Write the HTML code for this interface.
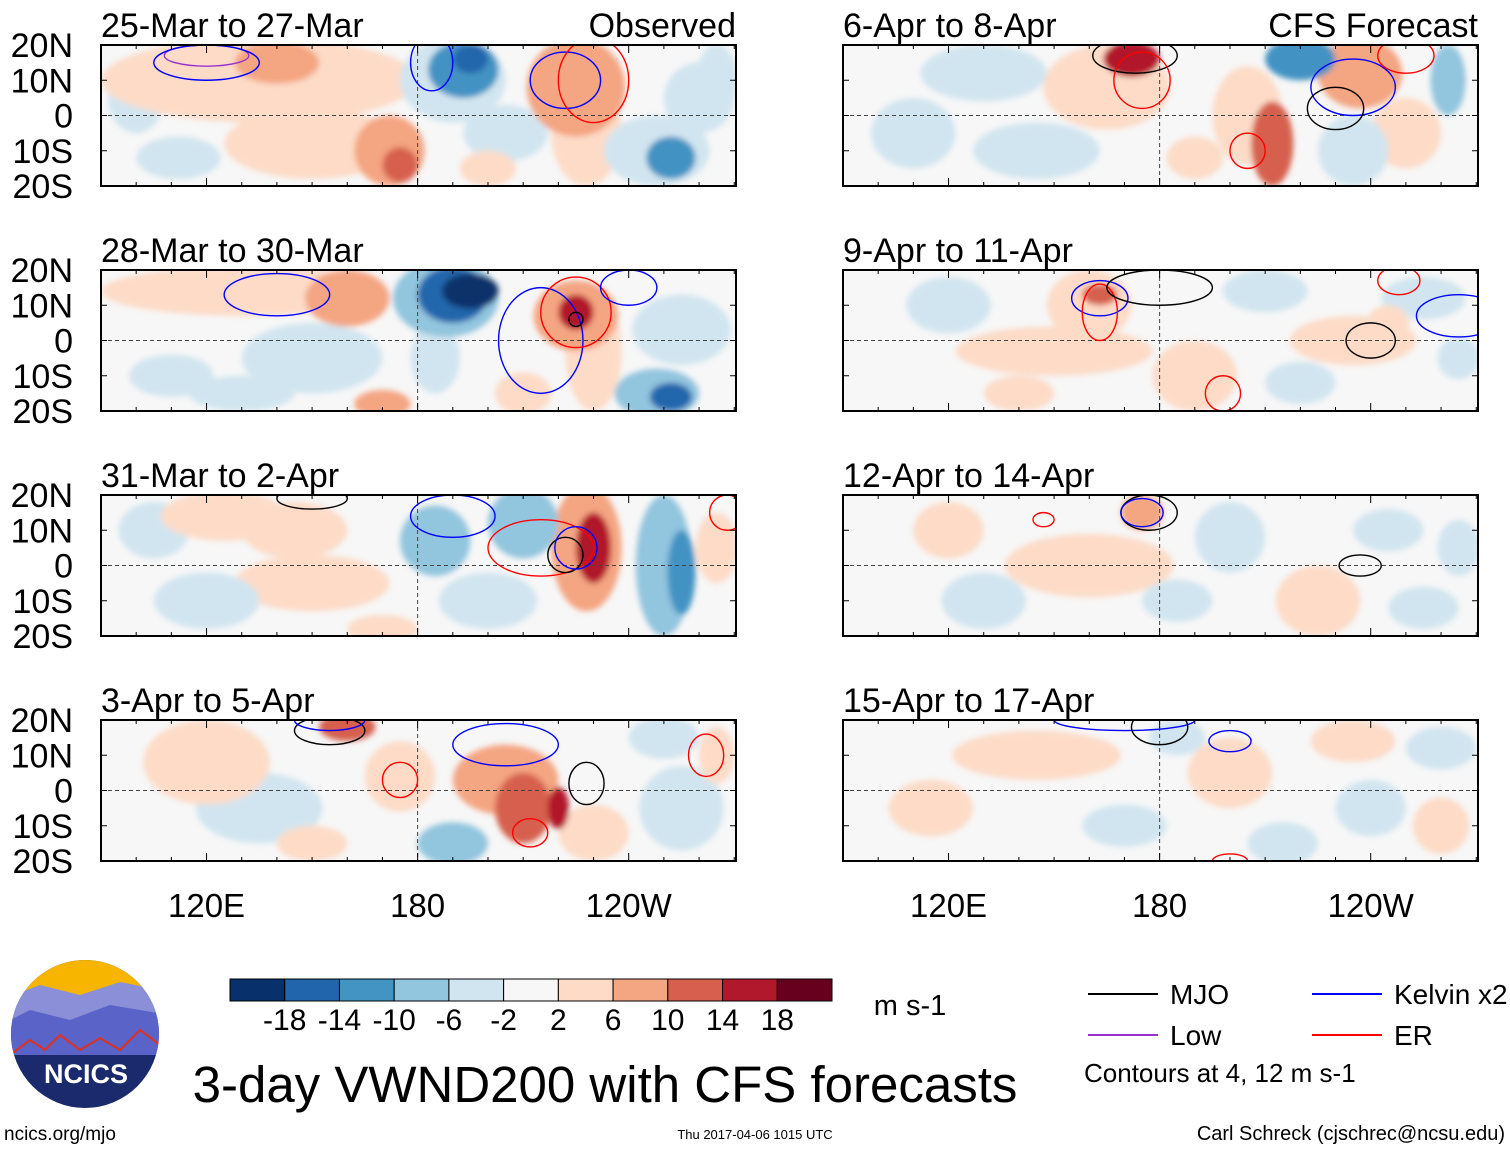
<!DOCTYPE html>
<html><head><meta charset="utf-8">
<style>
body{margin:0;background:#fff;width:1510px;height:1149px;overflow:hidden;font-family:"Liberation Sans",sans-serif;}
svg{position:absolute;left:0;top:0}
</style></head>
<body>
<svg id="chart" width="1510" height="1149">
<defs><filter id="blur" x="-20%" y="-20%" width="140%" height="140%"><feGaussianBlur stdDeviation="3"/></filter></defs>
</svg>
<script>
// ---- data ----
const panelTitles=["25-Mar to 27-Mar","28-Mar to 30-Mar","31-Mar to 2-Apr","3-Apr to 5-Apr","6-Apr to 8-Apr","9-Apr to 11-Apr","12-Apr to 14-Apr","15-Apr to 17-Apr"];
const latTicks=[20,10,0,-10,-20];
const latLabels=["20N","10N","0","10S","20S"];
const lonTicks=[120,180,240];
const lonLabels=["120E","180","120W"];
const levels=[-18,-14,-10,-6,-2,2,6,10,14,18];
const levelColors=["#08306b","#2166ac","#4393c3","#92c5de","#d1e5f0","#f7f7f7","#fddbc7","#f4a582","#d6604d","#b2182b","#67001f"];
// blobs: [lon, lat, lonRadius, latRadius, value m/s]
const blobs0=[[135,10,45,12,4],[150,-8,25,10,3],[172,-10,10,10,8],[175,-14,5,5,14],[190,10,15,12,-4],[193,13,10,8,-10],[195,16,5,4,-16],[225,8,14,14,7],[228,-5,10,15,4],[248,-10,15,10,-5],[252,-12,7,6,-10],[140,15,12,6,7],[265,10,6,10,-5],[205,-5,12,8,-3],[112,-12,12,6,-3],[260,5,10,10,-3],[100,5,8,10,-3],[200,-15,8,5,3]];
const blobs1=[[130,14,40,7,5],[160,12,12,8,7],[150,-5,20,10,-3],[188,12,15,11,-8],[190,13,10,8,-14],[195,14,8,5,-20],[225,7,12,10,9],[225,8,5,5,16],[230,-3,8,17,5],[248,-15,12,7,-8],[252,-16,6,4,-16],[170,-18,8,4,10],[255,3,14,10,-4],[110,-10,12,6,-3],[185,-5,7,10,-5],[210,-15,8,6,3],[130,-15,15,5,-3]];
const blobs2=[[125,14,18,7,5],[145,10,15,8,3],[185,7,10,10,-6],[210,12,10,10,-9],[228,5,10,18,8],[230,5,5,10,16],[250,0,8,20,-6],[255,-2,4,12,-12],[150,-5,22,8,3],[200,-10,14,8,-4],[170,-18,10,4,5],[120,-10,15,8,-3],[265,5,6,10,3],[105,10,10,8,-3]];
const blobs3=[[120,8,18,12,4],[160,18,8,4,12],[175,4,10,10,5],[205,3,15,10,7],[210,-5,8,10,12],[220,-5,3,6,18],[190,-15,10,6,-8],[135,-5,18,10,-3],[255,-5,12,12,-3],[250,15,10,6,-3],[230,-12,10,8,3],[150,-15,10,5,3],[265,10,5,8,3]];
const blobs4=[[165,8,18,12,5],[172,16,8,5,18],[212,-8,6,12,12],[205,0,10,14,5],[237,12,12,10,8],[220,16,10,6,-10],[262,10,5,10,-6],[130,12,18,8,-3],[145,-10,18,8,-3],[235,-10,10,10,-5],[110,-5,12,10,-3],[190,-12,8,6,3],[250,-5,10,10,3]];
const blobs5=[[160,10,12,10,5],[163,13,5,3,12],[150,-3,28,7,3],[210,14,12,6,-3],[235,0,18,7,4],[245,5,6,5,6],[255,12,12,6,-5],[190,-10,12,10,3],[265,-5,6,6,-3],[120,10,12,8,-3],[220,-12,10,6,-3],[140,-15,10,5,3]];
const blobs6=[[175,15,6,5,7],[200,8,10,10,-4],[160,0,24,9,3],[245,10,10,6,-3],[255,-12,10,6,-4],[225,-10,12,10,3],[120,10,10,8,3],[130,-10,12,8,-3],[185,-10,10,6,-3],[265,5,6,8,-3]];
const blobs7=[[235,14,12,6,5],[260,12,10,6,-5],[200,5,12,10,3],[145,10,24,7,3],[215,-15,10,6,-4],[260,-10,8,8,3],[170,-10,12,6,-3],[115,-5,12,8,3],[240,-5,10,8,-3],[185,15,8,5,-3]];
const allBlobs=[blobs0,blobs1,blobs2,blobs3,blobs4,blobs5,blobs6,blobs7];
// contours: [lon, lat, lonRadius, latRadius, type]
const cont0=[[120,17,12,3,"low"],[120,15,15,5,"kelvin"],[184,15,6,8,"kelvin"],[222,10,10,8,"kelvin"],[230,10,10,12,"er"]];
const cont1=[[140,13,15,6,"kelvin"],[215,0,12,15,"kelvin"],[225,8,10,10,"er"],[225,6,2,2,"mjo"],[240,15,8,5,"kelvin"]];
const cont2=[[150,19,10,3,"mjo"],[190,14,12,6,"kelvin"],[215,5,15,8,"er"],[222,3,5,5,"mjo"],[225,5,6,6,"kelvin"],[268,15,5,5,"er"]];
const cont3=[[155,17,10,4,"mjo"],[155,20,10,3,"kelvin"],[205,13,15,6,"kelvin"],[175,3,5,5,"er"],[212,-12,5,4,"er"],[228,2,5,6,"mjo"],[262,10,5,6,"er"]];
const cont4=[[173,17,12,5,"mjo"],[175,10,8,8,"er"],[235,8,12,8,"kelvin"],[230,2,8,6,"mjo"],[205,-10,5,5,"er"],[250,17,8,5,"er"]];
const cont5=[[163,12,8,5,"kelvin"],[163,8,5,8,"er"],[180,15,15,5,"mjo"],[240,0,7,5,"mjo"],[265,7,12,6,"kelvin"],[248,17,6,4,"er"],[198,-15,5,5,"er"]];
const cont6=[[177,15,8,5,"mjo"],[175,15,6,4,"kelvin"],[147,13,3,2,"er"],[237,0,6,3,"mjo"]];
const cont7=[[170,20,20,3,"kelvin"],[180,18,8,5,"mjo"],[200,14,6,3,"kelvin"],[200,-20,5,2,"er"]];
const allCont=[cont0,cont1,cont2,cont3,cont4,cont5,cont6,cont7];
const contColors={mjo:"#000",kelvin:"#0000ff",low:"#9932cc",er:"#ff0000"};

// ---- layout ----
const NS="http://www.w3.org/2000/svg";
const svg=document.getElementById("chart");
const defs=svg.querySelector("defs");
const colX=[101,843], rowY=[45,270,495,720], PW=635, PH=141;
const lonMin=90, lonMax=270.5, latMin=-20, latMax=20;
function xS(lon,px){return px+(lon-lonMin)/(lonMax-lonMin)*PW;}
function yS(lat,py){return py+(latMax-lat)/(latMax-latMin)*PH;}
function colorOf(v){let i=0;while(i<levels.length&&v>levels[i])i++;return levelColors[i];}
function mk(tag,attrs,parent){const e=document.createElementNS(NS,tag);for(const k in attrs)e.setAttribute(k,attrs[k]);(parent||svg).appendChild(e);return e;}
function txt(x,y,s,size,anchor,parent){const t=mk("text",{x:x,y:y,"font-size":size,"text-anchor":anchor||"start",fill:"#000"},parent);t.textContent=s;return t;}

for(let p=0;p<8;p++){
  const px=colX[p<4?0:1], py=rowY[p%4];
  const g=mk("g",{});
  
  
  const cp=mk("clipPath",{id:"cp"+p},defs);
  mk("rect",{x:px,y:py,width:PW,height:PH},cp);
  const fill=mk("g",{"clip-path":"url(#cp"+p+")"},g);
  mk("rect",{x:px,y:py,width:PW,height:PH,fill:"#f7f7f7"},fill);
  const bl=mk("g",{filter:"url(#blur)"},fill);
  const sorted=allBlobs[p].slice().sort((a,b)=>Math.abs(a[4])-Math.abs(b[4]));
  for(const b of sorted){
    const e=mk("ellipse",{cx:xS(b[0],px),cy:yS(b[1],py),rx:b[2]/(lonMax-lonMin)*PW,ry:b[3]/(latMax-latMin)*PH,fill:colorOf(b[4])},bl);
    
    
  }
  mk("line",{x1:px,x2:px+PW,y1:yS(0,py),y2:yS(0,py),stroke:"#444","stroke-dasharray":"4,3","stroke-width":1},fill);
  mk("line",{x1:xS(180,px),x2:xS(180,px),y1:py,y2:py+PH,stroke:"#444","stroke-dasharray":"4,3","stroke-width":1},fill);
  for(const c of allCont[p]){
    const e=mk("ellipse",{cx:xS(c[0],px),cy:yS(c[1],py),rx:c[2]/(lonMax-lonMin)*PW,ry:c[3]/(latMax-latMin)*PH,fill:"none",stroke:contColors[c[4]],"stroke-width":1.4},fill);
    
    
  }
  mk("rect",{x:px,y:py,width:PW,height:PH,fill:"none",stroke:"#000","stroke-width":2},g);
  for(let l=90;l<=270;l+=10){const x=xS(l,px);const len=(l%60==0)?8:4;
    mk("line",{x1:x,x2:x,y1:py,y2:py+len,stroke:"#000"},g);mk("line",{x1:x,x2:x,y1:py+PH,y2:py+PH-len,stroke:"#000"},g);}
  for(const la of latTicks){const y=yS(la,py);mk("line",{x1:px,x2:px+6,y1:y,y2:y,stroke:"#000"},g);mk("line",{x1:px+PW,x2:px+PW-6,y1:y,y2:y,stroke:"#000"},g);}
  const t=txt(px,py-8,panelTitles[p],34,"start",g);
  
  if(p<4){latTicks.forEach((la,i)=>{const l=txt(73,yS(la,py)+12,latLabels[i],34,"end",g);});}
  if(p%4==3){lonTicks.forEach((lo,i)=>{const l=txt(xS(lo,px),py+PH+56,lonLabels[i],33,"middle",g);});}
}
const ob=txt(736,37,"Observed",34,"end");
const cf=txt(1478,37,"CFS Forecast",34,"end");

// colorbar
const cb=mk("g",{});

const cbX=230,cbW=602/11;
levelColors.forEach((c,i)=>{mk("rect",{x:cbX+i*cbW,y:979,width:cbW,height:22,fill:c,stroke:"#000","stroke-width":1},cb);});
levels.forEach((v,i)=>{txt(cbX+(i+1)*cbW,1030,String(v),30,"middle",cb);});
txt(910,1015,"m s-1",29,"middle",cb);

// legend
const lg=mk("g",{});

[["MJO","#000",1088,994],["Kelvin x2","#0000ff",1312,994],["Low","#9932cc",1088,1035],["ER","#ff0000",1312,1035]].forEach(e=>{
  mk("line",{x1:e[2],x2:e[2]+70,y1:e[3],y2:e[3],stroke:e[1],"stroke-width":2},lg);
  txt(e[2]+82,e[3]+10,e[0],28,"start",lg);});
txt(1084,1082,"Contours at 4, 12 m s-1",26,"start",lg);

// title & footer
const ti=txt(605,1102,"3-day VWND200 with CFS forecasts",51,"middle");
const f1=txt(4,1140,"ncics.org/mjo",19,"start");
const f2=txt(755,1139,"Thu 2017-04-06 1015 UTC",13,"middle");
const f3=txt(1505,1140,"Carl Schreck (cjschrec@ncsu.edu)",20,"end");

// logo
const lo=mk("g",{});

const lcp=mk("clipPath",{id:"logoclip"},defs);mk("circle",{cx:85,cy:1034,r:74},lcp);
const lg2=mk("g",{"clip-path":"url(#logoclip)"},lo);
mk("rect",{x:0,y:950,width:170,height:170,fill:"#1a2a6c"},lg2);
mk("rect",{x:0,y:950,width:170,height:45,fill:"#f7b500"},lg2);
mk("path",{d:"M0 1000 L40 985 L80 995 L120 982 L170 992 L170 1030 L0 1030Z",fill:"#8a8fd8"},lg2);
mk("path",{d:"M0 1025 L30 1010 L70 1020 L110 1005 L170 1015 L170 1055 L0 1055Z",fill:"#5a63c8"},lg2);
mk("path",{d:"M10 1055 L30 1040 L45 1050 L60 1035 L80 1050 L100 1038 L120 1050 L140 1030 L160 1045",fill:"none",stroke:"#e03020","stroke-width":2},lg2);
const nt=txt(86,1083,"NCICS",27,"middle",lo);nt.setAttribute("fill","#fff");nt.setAttribute("font-weight","bold");
</script>
</body></html>
